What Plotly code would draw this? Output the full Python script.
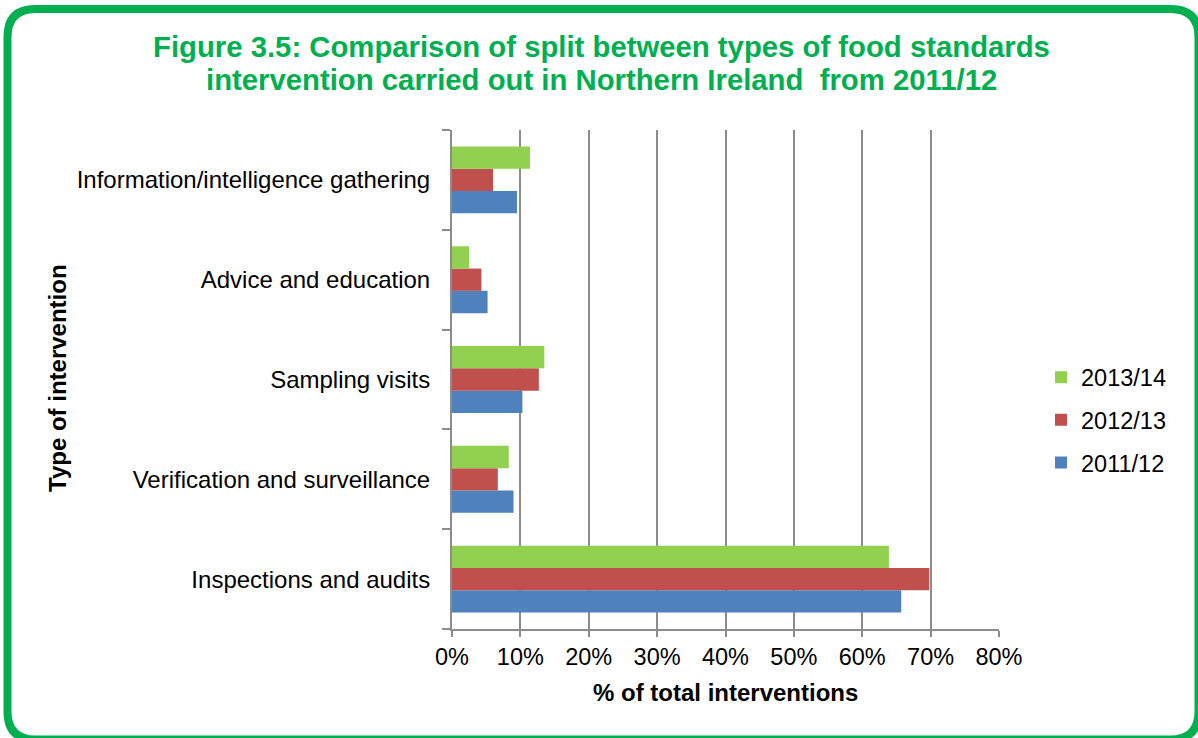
import plotly.graph_objects as go

categories = [
    "Inspections and audits",
    "Verification and surveillance",
    "Sampling visits",
    "Advice and education",
    "Information/intelligence gathering",
]
series_names = ["2011/12", "2012/13", "2013/14"]
v_2011_12 = [65.7, 9.0, 10.3, 5.2, 9.5]
v_2012_13 = [69.8, 6.7, 12.7, 4.3, 6.0]
v_2013_14 = [63.9, 8.3, 13.5, 2.5, 11.4]
colors = ["#4F81BD", "#C0504D", "#92D050"]
x_ticks = [0, 10, 20, 30, 40, 50, 60, 70, 80]
x_tick_labels = [f"{v}%" for v in x_ticks]

FONT = "Liberation Sans, Arial, sans-serif"
GREEN = "#00B050"
GRID = "#8C8C8C"

W, H = 1198, 738
ML, MR, MT, MB = 452, 199, 130, 109
PW, PH = W - ML - MR, H - MT - MB


def px(x):
    return (x - ML) / PW


def py(y):
    return (H - MB - y) / PH


fig = go.Figure()
for i, (name, vals, col) in enumerate(zip(series_names, [v_2011_12, v_2012_13, v_2013_14], colors)):
    fig.add_trace(go.Bar(
        y=categories, x=vals, name=name, orientation="h",
        marker=dict(color=col, line=dict(width=0)),
        legendgroup=name, legendrank=1000 - i,
    ))

# rounded green border
L, T, R, B, r = 7.5, 9, 1198.5, 739.5, 28
pts = (
    f"M {px(L + r)},{py(T)} L {px(R - r)},{py(T)} Q {px(R)},{py(T)} {px(R)},{py(T + r)} "
    f"L {px(R)},{py(B - r)} Q {px(R)},{py(B)} {px(R - r)},{py(B)} "
    f"L {px(L + r)},{py(B)} Q {px(L)},{py(B)} {px(L)},{py(B - r)} "
    f"L {px(L)},{py(T + r)} Q {px(L)},{py(T)} {px(L + r)},{py(T)} Z"
)
fig.add_shape(type="path", path=pts, xref="paper", yref="paper",
              line=dict(color=GREEN, width=8), layer="above")

annotations = [
    dict(text="<b>Figure 3.5: Comparison of split between types of food standards</b>",
         x=px(601), y=py(47), xref="paper", yref="paper", showarrow=False,
         xanchor="center", yanchor="middle", font=dict(family=FONT, size=29.3, color=GREEN)),
    dict(text="<b>intervention carried out in Northern Ireland  from 2011/12</b>",
         x=px(601), y=py(80), xref="paper", yref="paper", showarrow=False,
         xanchor="center", yanchor="middle", font=dict(family=FONT, size=29.3, color=GREEN)),
    dict(text="<b>% of total interventions</b>",
         x=px(725), y=py(692), xref="paper", yref="paper", showarrow=False,
         xanchor="center", yanchor="middle", font=dict(family=FONT, size=24, color="black")),
    dict(text="<b>Type of intervention</b>", textangle=-90,
         x=px(57), y=py(378), xref="paper", yref="paper", showarrow=False,
         xanchor="center", yanchor="middle", font=dict(family=FONT, size=24, color="black")),
]

fig.update_layout(
    width=W, height=H,
    margin=dict(l=ML, r=MR, t=MT, b=MB, pad=0),
    paper_bgcolor="white", plot_bgcolor="white",
    barmode="group", bargap=0.33, bargroupgap=0,
    font=dict(family=FONT, size=23.5, color="black"),
    annotations=annotations,
    showlegend=True,
    legend=dict(
        x=px(1041), y=py(420), xanchor="left", yanchor="middle",
        traceorder="grouped", tracegroupgap=9,
        font=dict(family=FONT, size=23.5, color="black"),
        bgcolor="rgba(0,0,0,0)",
    ),
    xaxis=dict(
        range=[0, 80], tickvals=x_ticks, ticktext=x_tick_labels,
        showgrid=True, gridcolor=GRID, gridwidth=2,
        showline=True, linecolor=GRID, linewidth=2,
        ticks="outside", ticklen=6, tickcolor=GRID, tickwidth=2,
        zeroline=False, fixedrange=True,
        tickfont=dict(family=FONT, size=23.5, color="black"),
    ),
    yaxis=dict(
        type="category", categoryorder="array", categoryarray=categories,
        showline=True, linecolor=GRID, linewidth=2,
        ticks="outside", ticklen=8, tickcolor=GRID, tickwidth=2,
        tickson="boundaries", showgrid=False, zeroline=False,
        ticklabelstandoff=15, fixedrange=True,
        tickfont=dict(family=FONT, size=24, color="black"),
    ),
)

fig.write_html(
    "out.html",
    config={"displayModeBar": False},
    post_script="document.body.style.margin='0';document.body.style.padding='0';",
)
